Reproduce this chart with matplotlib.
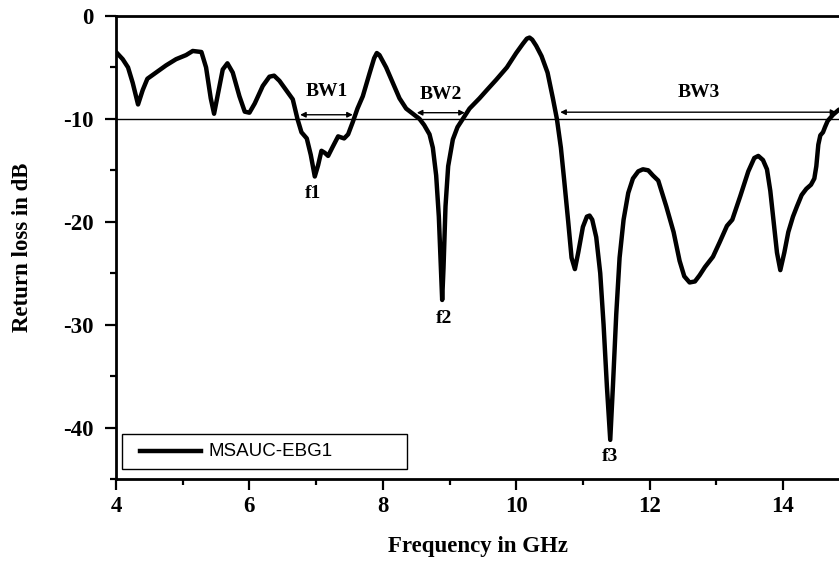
import matplotlib
matplotlib.use("Agg")
import matplotlib.pyplot as plt
from matplotlib.patches import Rectangle
from matplotlib.ticker import MultipleLocator

plt.rcParams["axes.unicode_minus"] = False

freq_ghz = [4.00, 4.10, 4.18, 4.25, 4.33, 4.40, 4.47, 4.60, 4.75, 4.90, 5.05, 5.15, 5.28, 5.35,
            5.42, 5.47, 5.53, 5.60, 5.67, 5.75, 5.85, 5.93, 6.00, 6.08, 6.20, 6.30, 6.37, 6.45,
            6.55, 6.65, 6.72, 6.78, 6.86, 6.92, 6.98, 7.03, 7.08, 7.13, 7.18, 7.25, 7.33, 7.42,
            7.48, 7.55, 7.62, 7.70, 7.80, 7.87, 7.91, 7.95, 8.05, 8.15, 8.25, 8.35, 8.45, 8.55, 8.62,
            8.70, 8.75, 8.80, 8.84, 8.87, 8.89, 8.91, 8.94, 8.98, 9.05, 9.12, 9.20, 9.30, 9.45,
            9.56, 9.70, 9.86, 10.00, 10.10, 10.16, 10.20, 10.24, 10.30, 10.38, 10.47, 10.55, 10.61, 10.67,
            10.72, 10.78, 10.83, 10.88, 10.93, 11.00, 11.06, 11.10, 11.14, 11.20, 11.26, 11.31, 11.36, 11.41,
            11.45, 11.50, 11.55, 11.61, 11.68, 11.75, 11.83, 11.90, 11.98, 12.05, 12.13, 12.25, 12.36,
            12.45, 12.52, 12.60, 12.68, 12.75, 12.83, 12.95, 13.05, 13.16, 13.24, 13.36, 13.48,
            13.57, 13.63, 13.70, 13.76, 13.81, 13.86, 13.91, 13.96, 14.02, 14.08, 14.15, 14.21,
            14.28, 14.35, 14.42, 14.47, 14.50, 14.53, 14.56, 14.60, 14.63, 14.67, 14.75, 14.84]
return_loss_db = [-3.5, -4.2, -5.0, -6.5, -8.6, -7.2, -6.1, -5.5, -4.8, -4.2, -3.8, -3.4, -3.5, -5.0,
                  -8.0, -9.5, -7.5, -5.2, -4.6, -5.5, -7.8, -9.3, -9.4, -8.5, -6.8, -5.9, -5.8, -6.3,
                  -7.2, -8.1, -10.0, -11.3, -11.9, -13.5, -15.6, -14.5, -13.1, -13.3, -13.6, -12.7, -11.7, -11.9,
                  -11.5, -10.3, -9.0, -7.8, -5.6, -4.1, -3.6, -3.8, -5.0, -6.5, -8.0, -9.0, -9.5, -10.0, -10.6,
                  -11.5, -12.8, -15.5, -19.5, -24.5, -27.6, -24.5, -18.5, -14.6, -12.0, -10.8, -10.0, -9.0, -8.0,
                  -7.2, -6.2, -5.0, -3.6, -2.7, -2.2, -2.1, -2.3, -2.9, -3.9, -5.5, -8.0, -10.0, -12.8,
                  -16.0, -20.0, -23.5, -24.6, -23.0, -20.5, -19.5, -19.4, -19.8, -21.5, -25.0, -30.0, -36.0, -41.2,
                  -36.0, -29.0, -23.5, -19.8, -17.2, -15.8, -15.1, -14.9, -15.0, -15.5, -16.0, -18.5, -21.0,
                  -23.8, -25.3, -25.9, -25.8, -25.2, -24.4, -23.4, -22.0, -20.4, -19.8, -17.5, -15.1,
                  -13.8, -13.6, -14.0, -14.9, -17.0, -20.0, -23.0, -24.7, -23.0, -21.0, -19.5, -18.5,
                  -17.4, -16.8, -16.4, -15.8, -14.6, -12.5, -11.6, -11.3, -10.8, -10.2, -9.6, -9.1]

series_label = "MSAUC-EBG1"
threshold_db = -10
bw_labels = ["BW1", "BW2", "BW3"]
bw_starts = [6.76, 8.51, 10.66]
bw_ends = [7.55, 9.23, 14.80]
bw_arrow_y = [-9.6, -9.4, -9.35]
bw_text_x = [7.16, 8.87, 12.73]
bw_text_y = [-7.3, -7.6, -7.4]
res_labels = ["f1", "f2", "f3"]
res_x = [6.95, 8.92, 11.40]
res_y = [-17.3, -29.4, -42.8]

serif = ["Liberation Serif", "DejaVu Serif"]

fig = plt.figure(figsize=(8.39, 5.61), dpi=100)
ax = fig.add_axes([0.1383, 0.1462, 0.8617, 0.8253])

ax.plot(freq_ghz, return_loss_db, color="black", lw=3.2, solid_joinstyle="round",
        solid_capstyle="round", zorder=3)
ax.axhline(threshold_db, color="black", lw=1.0, zorder=2)

ax.set_xlim(4, 14.84)
ax.set_ylim(-45, 0)
ax.xaxis.set_major_locator(MultipleLocator(2))
ax.xaxis.set_minor_locator(MultipleLocator(1))
ax.yaxis.set_major_locator(MultipleLocator(10))
ax.yaxis.set_minor_locator(MultipleLocator(5))
ax.tick_params(which="major", direction="out", length=8, width=1.6, pad=4)
ax.tick_params(axis="y", which="major", pad=8)
ax.tick_params(which="minor", direction="out", length=4, width=1.6)
ax.spines["right"].set_visible(False)
for s in ["left", "top", "bottom"]:
    ax.spines[s].set_linewidth(2.0)

for lab in ax.get_xticklabels() + ax.get_yticklabels():
    lab.set_fontfamily(serif)
    lab.set_fontweight("bold")
    lab.set_fontsize(16.5)

ax.set_xlabel("Frequency in GHz", fontfamily=serif, fontweight="bold", fontsize=16.5, labelpad=14)
ax.set_ylabel("Return loss in dB", fontfamily=serif, fontweight="bold", fontsize=16.5, labelpad=22)

for lab, x0, x1, ya, tx, ty in zip(bw_labels, bw_starts, bw_ends, bw_arrow_y, bw_text_x, bw_text_y):
    ax.annotate("", xy=(x0, ya), xytext=(x1, ya),
                arrowprops=dict(arrowstyle="<|-|>", lw=1.0, color="black",
                                mutation_scale=8, shrinkA=0, shrinkB=0))
    ax.text(tx, ty, lab, fontfamily=serif, fontweight="bold", fontsize=14,
            ha="center", va="center")

for lab, x, y in zip(res_labels, res_x, res_y):
    ax.text(x, y, lab, fontfamily=serif, fontweight="bold", fontsize=14,
            ha="center", va="center")

# legend box
ax.add_patch(Rectangle((4.09, -44.0), 4.27, 3.4, fill=False, lw=1.0,
                       edgecolor="black", zorder=4))
ax.plot([4.36, 5.28], [-42.3, -42.3], color="black", lw=3.2, zorder=4)
ax.text(5.38, -42.3, series_label, fontfamily=["Liberation Sans", "DejaVu Sans"],
        fontsize=13.5, ha="left", va="center", zorder=4)

fig.savefig("out.png", dpi=100)
